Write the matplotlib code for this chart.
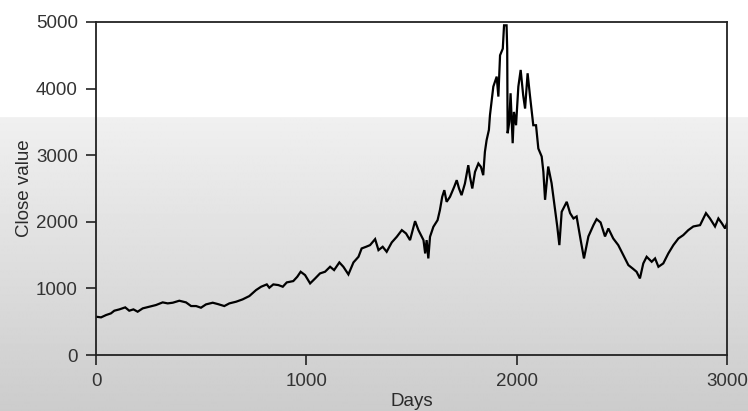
import numpy as np
import matplotlib
matplotlib.use("Agg")
import matplotlib.pyplot as plt

# days and close values
days = [0, 24, 48, 71, 87, 111, 139, 158, 178, 198, 222, 254, 285, 317,
        341, 365, 396, 428, 452, 476, 499, 523, 555, 579, 610, 634, 666,
        697, 729, 761, 785, 812, 824, 843, 867, 888, 907, 938, 957, 973,
        994, 1018, 1042, 1065, 1089, 1113, 1132, 1157, 1176, 1200, 1224,
        1248, 1263, 1284, 1303, 1327, 1343, 1363, 1382, 1406, 1430, 1454,
        1474, 1493, 1517, 1533, 1557, 1565, 1572, 1580, 1588, 1604, 1624,
        1635, 1646, 1656, 1667, 1683, 1703, 1715, 1726, 1738, 1754, 1770,
        1778, 1789, 1802, 1818, 1830, 1841, 1849, 1857, 1868, 1873, 1889,
        1905, 1913, 1921, 1934, 1940, 1952, 1955, 1957, 1965, 1971, 1981,
        1987, 1997, 2008, 2019, 2031, 2040, 2052, 2063, 2079, 2092, 2103,
        2119, 2127, 2135, 2150, 2166, 2182, 2193, 2203, 2214, 2238, 2254,
        2270, 2285, 2304, 2320, 2341, 2365, 2380, 2399, 2420, 2436, 2459,
        2483, 2507, 2531, 2551, 2570, 2586, 2602, 2618, 2642, 2658, 2674,
        2697, 2721, 2745, 2769, 2792, 2816, 2840, 2872, 2900, 2919, 2943,
        2959, 2975, 2991, 3000]
close = [575, 565, 600, 625, 665, 685, 715, 665, 685, 650, 700, 725, 750,
         790, 775, 785, 815, 790, 735, 735, 710, 760, 785, 765, 735, 775,
         800, 835, 885, 975, 1025, 1060, 1010, 1060, 1050, 1025, 1090, 1110,
         1175, 1250, 1200, 1075, 1150, 1225, 1250, 1325, 1275, 1390, 1325,
         1210, 1390, 1475, 1600, 1625, 1650, 1740, 1575, 1625, 1550, 1690,
         1775, 1875, 1825, 1725, 2010, 1875, 1725, 1525, 1725, 1450, 1775,
         1925, 2025, 2175, 2375, 2475, 2300, 2375, 2525, 2625, 2500, 2400,
         2575, 2850, 2675, 2500, 2750, 2875, 2825, 2700, 3050, 3225, 3380,
         3600, 4030, 4180, 3880, 4500, 4600, 4950, 4950, 4600, 3330, 3500,
         3930, 3180, 3650, 3450, 4030, 4280, 3900, 3700, 4230, 3900, 3450,
         3450, 3100, 2980, 2750, 2330, 2830, 2580, 2200, 1930, 1650, 2150,
         2300, 2130, 2050, 2080, 1730, 1450, 1780, 1950, 2040, 1990, 1780,
         1900, 1750, 1650, 1500, 1350, 1300, 1250, 1150, 1375, 1475, 1400,
         1450, 1325, 1375, 1525, 1650, 1750, 1800, 1875, 1930, 1950, 2130,
         2050, 1930, 2050, 1980, 1900, 1980]

x_ticks = [0, 1000, 2000, 3000]
y_ticks = [0, 1000, 2000, 3000, 4000, 5000]

W, H = 748, 411
fig = plt.figure(figsize=(W / 100, H / 100), dpi=100)

# background: white top, grey gradient below
bg = fig.add_axes([0, 0, 1, 1], zorder=-10)
rows = np.arange(H)
shade = np.where(rows < 118, 1.0, 0.94 - (rows - 118) / (H - 118) * 0.14)
img = np.repeat(shade[:, None], 4, axis=1)
bg.imshow(img, cmap='gray', vmin=0, vmax=1, aspect='auto',
          extent=(0, 1, 0, 1), origin='upper')
bg.set_axis_off()

ax = fig.add_axes([96 / W, (H - 355) / H, 631 / W, 333 / H])
ax.set_facecolor('none')
ax.plot(days, close, color='black', lw=1.6, solid_joinstyle='miter')

ax.set_xlim(0, 3000)
ax.set_ylim(0, 5000)
ax.set_xticks(x_ticks)
ax.set_yticks(y_ticks)
for s in ax.spines.values():
    s.set_color('#222222')
    s.set_linewidth(1.3)
ax.tick_params(direction='out', length=7, width=1.2, color='#222222',
               labelsize=13.5, labelcolor='#333333', pad=6)
for lbl in ax.get_xticklabels() + ax.get_yticklabels():
    lbl.set_family('Liberation Sans')

ax.set_xlabel('Days', family='Liberation Sans', fontsize=13.5,
              color='#2a2a2a', labelpad=2)
ax.set_ylabel('Close value', family='Liberation Sans', fontsize=13.5,
              color='#2a2a2a', labelpad=2)

fig.savefig('out.png', dpi=100)
